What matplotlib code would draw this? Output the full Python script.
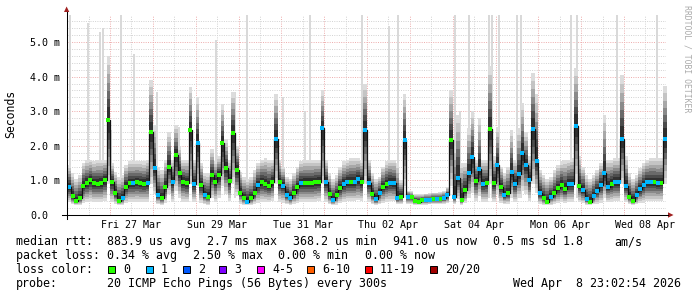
import numpy as np
import matplotlib
matplotlib.use('Agg')
import matplotlib.pyplot as plt
from matplotlib.lines import Line2D
from matplotlib.patches import Polygon, Rectangle

# --- data: 2-hourly samples, days since Thu 26 Mar 00:00 (ms) ---
median = [
    0.80, 0.55, 0.40, 0.48, 0.85, 0.92, 1.01, 0.92, 0.91, 0.92,
    1.00, 2.75, 0.94, 0.63, 0.40, 0.48, 0.82, 0.92, 0.92, 0.94,
    0.92, 0.90, 0.93, 2.40, 1.37, 0.58, 0.48, 0.82, 1.40, 0.96,
    1.73, 1.22, 0.96, 0.92, 2.45, 0.90, 2.07, 0.87, 0.58, 0.53,
    1.15, 0.95, 1.15, 2.07, 1.35, 0.99, 2.36, 1.30, 0.65, 0.48,
    0.39, 0.48, 0.63, 0.87, 0.94, 0.90, 0.84, 0.96, 2.21, 0.94,
    0.85, 0.58, 0.48, 0.65, 0.80, 0.92, 0.92, 0.92, 0.92, 0.94,
    0.96, 2.50, 0.96, 0.60, 0.43, 0.58, 0.77, 0.90, 0.96, 0.96,
    0.96, 1.03, 0.96, 2.45, 0.92, 0.60, 0.45, 0.65, 0.80, 0.89,
    0.93, 0.92, 0.48, 0.53, 2.17, 0.53, 0.51, 0.41, 0.39, 0.43,
    0.43, 0.44, 0.46, 0.46, 0.46, 0.48, 0.58, 2.17, 0.53, 1.08,
    0.43, 0.72, 1.20, 1.69, 0.99, 1.32, 0.90, 0.92, 2.48, 0.93,
    1.45, 0.82, 0.58, 0.63, 1.25, 0.90, 1.18, 1.78, 1.44, 1.01,
    2.48, 1.57, 0.63, 0.48, 0.39, 0.53, 0.63, 0.77, 0.87, 0.74,
    0.90, 0.90, 2.57, 0.84, 0.72, 0.45, 0.39, 0.56, 0.70, 0.87,
    1.21, 0.82, 0.89, 0.95, 0.96, 2.21, 0.84, 0.53, 0.41, 0.58,
    0.74, 0.87, 0.94, 0.94, 0.94, 0.92, 0.93, 2.21]

loss = [
    1, 0, 0, 0, 0, 0, 0, 0, 0, 0,
    0, 0, 0, 0, 0, 1, 0, 0, 1, 0,
    0, 0, 1, 0, 1, 1, 0, 0, 0, 1,
    0, 0, 0, 0, 0, 1, 1, 0, 1, 0,
    0, 0, 0, 0, 0, 0, 0, 0, 0, 0,
    1, 0, 0, 1, 0, 0, 0, 0, 1, 0,
    1, 1, 1, 0, 0, 1, 0, 0, 0, 0,
    0, 1, 1, 0, 1, 0, 0, 1, 1, 0,
    1, 1, 0, 1, 1, 0, 1, 1, 0, 0,
    1, 1, 1, 0, 1, 1, 0, 0, 0, 0,
    1, 1, 0, 1, 0, 1, 1, 0, 1, 1,
    0, 0, 1, 1, 0, 1, 1, 0, 0, 0,
    1, 0, 1, 0, 1, 1, 1, 1, 1, 1,
    1, 1, 1, 0, 0, 1, 0, 0, 0, 0,
    1, 1, 1, 0, 1, 1, 0, 1, 1, 1,
    1, 1, 0, 1, 1, 1, 1, 0, 0, 1,
    1, 1, 1, 1, 0, 1, 0, 1]

smoke_hi = [
    1.45, 1.20, 1.05, 1.15, 1.50, 1.60, 1.60, 1.55, 1.60, 1.60,
    1.60, 4.60, 1.50, 1.25, 1.10, 1.15, 1.45, 1.55, 1.55, 1.55,
    1.55, 1.55, 1.60, 3.90, 2.60, 1.40, 1.30, 1.60, 2.40, 1.60,
    2.60, 2.00, 1.60, 1.60, 3.70, 1.60, 3.40, 1.50, 1.20, 1.20,
    1.90, 1.55, 1.70, 3.20, 2.20, 1.60, 3.56, 2.00, 1.25, 1.10,
    1.05, 1.10, 1.30, 1.50, 1.60, 1.65, 1.60, 1.60, 3.50, 1.60,
    1.40, 1.10, 1.05, 1.20, 1.40, 1.55, 1.60, 1.60, 1.60, 1.60,
    1.60, 3.60, 1.60, 1.20, 1.05, 1.15, 1.40, 1.55, 1.60, 1.65,
    1.65, 1.65, 1.60, 3.80, 1.60, 1.20, 1.05, 1.10, 1.40, 1.55,
    1.60, 1.60, 1.50, 1.00, 3.50, 0.70, 0.68, 0.62, 0.60, 0.60,
    0.62, 0.63, 0.65, 0.65, 0.66, 0.68, 0.80, 3.60, 2.00, 2.90,
    1.50, 1.50, 2.50, 3.00, 1.60, 2.80, 1.60, 1.60, 4.30, 1.70,
    2.55, 1.40, 1.20, 1.40, 2.45, 1.60, 2.50, 3.24, 2.40, 1.70,
    4.10, 3.50, 1.30, 1.15, 1.05, 1.10, 1.30, 1.45, 1.55, 1.60,
    1.60, 1.65, 4.25, 1.70, 1.40, 1.15, 1.05, 1.15, 1.30, 1.50,
    2.90, 1.60, 1.60, 1.65, 1.65, 4.05, 1.70, 1.20, 1.05, 1.15,
    1.35, 1.50, 1.60, 1.65, 1.65, 1.65, 1.65, 3.73]

smoke_lo = [
    0.38, 0.32, 0.30, 0.30, 0.34, 0.38, 0.40, 0.38, 0.38, 0.38,
    0.40, 0.90, 0.38, 0.33, 0.30, 0.30, 0.35, 0.38, 0.38, 0.38,
    0.38, 0.38, 0.38, 0.90, 0.60, 0.32, 0.30, 0.36, 0.60, 0.38,
    0.70, 0.50, 0.38, 0.38, 0.90, 0.38, 0.85, 0.36, 0.32, 0.30,
    0.50, 0.38, 0.50, 0.85, 0.60, 0.40, 0.90, 0.55, 0.33, 0.30,
    0.29, 0.30, 0.33, 0.36, 0.38, 0.38, 0.38, 0.40, 0.90, 0.38,
    0.36, 0.32, 0.30, 0.32, 0.35, 0.38, 0.38, 0.38, 0.38, 0.38,
    0.40, 0.90, 0.38, 0.32, 0.29, 0.30, 0.34, 0.38, 0.40, 0.40,
    0.40, 0.42, 0.40, 0.90, 0.38, 0.32, 0.29, 0.31, 0.35, 0.38,
    0.40, 0.40, 0.32, 0.32, 0.85, 0.32, 0.32, 0.30, 0.29, 0.30,
    0.30, 0.31, 0.32, 0.32, 0.32, 0.33, 0.34, 0.85, 0.32, 0.45,
    0.30, 0.35, 0.50, 0.65, 0.40, 0.55, 0.38, 0.38, 0.90, 0.38,
    0.60, 0.35, 0.32, 0.33, 0.50, 0.38, 0.50, 0.70, 0.60, 0.40,
    0.90, 0.65, 0.33, 0.30, 0.29, 0.30, 0.33, 0.35, 0.38, 0.36,
    0.38, 0.38, 0.95, 0.38, 0.34, 0.30, 0.29, 0.31, 0.33, 0.36,
    0.50, 0.38, 0.38, 0.40, 0.40, 0.90, 0.38, 0.32, 0.29, 0.31,
    0.34, 0.36, 0.40, 0.40, 0.40, 0.40, 0.40, 0.90]

# single outlier pings (max rtt), day and value in ms
peak_day = [0.07, 0.49, 0.77, 0.84, 1.02, 1.26, 1.56, 2.09, 2.61, 3.47,
            3.92, 4.20, 5.04, 5.55, 5.67, 6.88, 7.51, 7.72, 9.05, 9.17,
            9.38, 9.85, 9.92, 10.08, 10.50, 10.60, 11.76, 11.90, 12.84, 13.77]
peak_ms = [6.0, 5.55, 5.3, 5.4, 2.45, 6.0, 4.65, 3.56, 2.55, 5.05,
           3.56, 6.0, 3.4, 3.0, 6.0, 6.0, 5.45, 6.0, 6.0, 3.0,
           6.0, 6.0, 6.0, 6.0, 6.0, 6.0, 6.0, 6.0, 6.0, 6.0]

tick_days = [1.5, 3.5, 5.5, 7.5, 9.5, 11.5, 13.5]
tick_labels = ['Fri 27 Mar', 'Sun 29 Mar', 'Tue 31 Mar', 'Thu 02 Apr',
               'Sat 04 Apr', 'Mon 06 Apr', 'Wed 08 Apr']
ytick_vals = [0, 1, 2, 3, 4, 5]
ytick_labels = ['0.0', '1.0 m', '2.0 m', '3.0 m', '4.0 m', '5.0 m']

loss_labels = ['0', '1', '2', '3', '4-5', '6-10', '11-19', '20/20']
loss_colors = ['#26ff00', '#00b8ff', '#0059ff', '#7e00ff', '#ff00ff',
               '#ff5e00', '#ff0000', '#a10000']

W, H = 697, 297
MONO = 'DejaVu Sans Mono'


def fx(x):
    return x / W


def fy(y):
    return 1 - y / H


fig = plt.figure(figsize=(W / 100, H / 100), dpi=100)
fig.patch.set_facecolor('white')
ax = fig.add_axes([fx(66.6), fy(215), (666.2 - 66.6) / W, 200 / H])
ax.set_xlim(-0.015, 13.985)
ax.set_ylim(0, 5.78)
for s in ax.spines.values():
    s.set_visible(False)

# grid
for d in np.arange(0, 14.01, 0.5):
    major = abs(d - round(d)) < 1e-6
    ax.axvline(d, color='#eeb0b0' if major else '#d4d4d4', lw=0.72,
               ls=(0, (1, 1.3)), zorder=0.5)
for v in np.arange(0.2, 5.7, 0.2):
    major = abs(v - round(v)) < 1e-6
    ax.axhline(v, color='#eeb0b0' if major else '#d4d4d4', lw=0.72,
               ls=(0, (1, 1.3)), zorder=0.5)

t = np.arange(len(median)) / 12.0
med = np.array(median)
hi = np.array(smoke_hi)
lo = np.array(smoke_lo)
te = np.append(t, t[-1] + 1 / 12)
te[0] = -0.015


def ext(a):
    return np.append(a, a[-1])


# outliers
ax.bar(peak_day, np.array(peak_ms) - 0.5, bottom=0.5, width=0.05,
       color='#d9d9d9', lw=0, zorder=1)

# smoke
fracs = [1.0, 0.86, 0.72, 0.58, 0.45, 0.32, 0.2]
greys = ['#dcdcdc', '#c4c4c4', '#a8a8a8', '#8a8a8a', '#6a6a6a', '#4c4c4c', '#303030']
for f, c in zip(fracs, greys):
    up = med + f * (hi - med)
    dn = med - f * (med - lo)
    ax.fill_between(te, ext(dn), ext(up), step='post', color=c, lw=0, zorder=2)

# median line + loss colour
ax.step(te, ext(med), where='post', color='#111111', lw=0.9, zorder=3)
lossarr = np.array(loss)
for i, col in enumerate(loss_colors):
    m = lossarr == i
    if m.any():
        ax.plot(t[m] + 1 / 24, med[m], 's', ms=2.3, mew=0, color=col, zorder=4)

# ticks
ax.set_xticks(tick_days)
ax.set_xticklabels(tick_labels, fontfamily=MONO, fontsize=7.2)
ax.set_yticks(ytick_vals)
ax.set_yticklabels(ytick_labels, fontfamily=MONO, fontsize=7.2)
ax.tick_params(axis='x', length=0, pad=3.5)
ax.tick_params(axis='y', length=0, pad=26.4)
for lbl in ax.get_yticklabels():
    lbl.set_horizontalalignment('left')

# axes lines and arrows
fig.add_artist(Line2D([fx(66.6), fx(66.6)], [fy(219), fy(12)], color='#000000', lw=0.75))
fig.add_artist(Line2D([fx(62), fx(668)], [fy(215), fy(215)], color='#000000', lw=0.75))
fig.add_artist(Polygon([(fx(64), fy(12)), (fx(69.3), fy(12)), (fx(66.6), fy(6.5))],
                       closed=True, color='#a02020', lw=0))
fig.add_artist(Polygon([(fx(668), fy(212.3)), (fx(668), fy(217.7)), (fx(673.5), fy(215))],
                       closed=True, color='#a02020', lw=0))

fig.text(fx(11), fy(114), 'Seconds', rotation=90, ha='center', va='center',
         fontfamily=MONO, fontsize=8.3)
fig.text(fx(687), fy(5), 'RRDTOOL / TOBI OETIKER', rotation=270, ha='center',
         va='top', fontfamily=MONO, fontsize=5.9, color='#aaaaaa')

# legend
legend_rows = [
    (241.7, [(16, 'median rtt:'), (107, '883.9 us avg'), (207, '2.7 ms max'),
             (293, '368.2 us min'), (393, '941.0 us now'), (493, '0.5 ms sd'),
             (563, '1.8'), (614, 'am/s')]),
    (255.7, [(16, 'packet loss:'), (107, '0.34 % avg'), (193, '2.50 % max'),
             (278, '0.00 % min'), (365, '0.00 % now')]),
    (269.3, [(16, 'loss color:')]),
    (283.3, [(16, 'probe:'), (107, '20 ICMP Echo Pings (56 Bytes) every 300s'),
             (513, 'Wed Apr  8 23:02:54 2026')]),
]
for y, items in legend_rows:
    for x, s in items:
        fig.text(fx(x), fy(y), s, ha='left', va='center', fontfamily=MONO,
                 fontsize=8.4, color='#000000')

box_x = [108, 146, 183, 219, 257, 307, 365, 430]
for bx, lab, col in zip(box_x, loss_labels, loss_colors):
    fig.add_artist(Rectangle((fx(bx), fy(273)), 7 / W, 7.5 / H, facecolor=col,
                             edgecolor='#000000', lw=0.7))
    fig.text(fx(bx + 15), fy(269.3), lab, ha='left', va='center',
             fontfamily=MONO, fontsize=8.4, color='#000000')

fig.savefig('out.png', dpi=100)
